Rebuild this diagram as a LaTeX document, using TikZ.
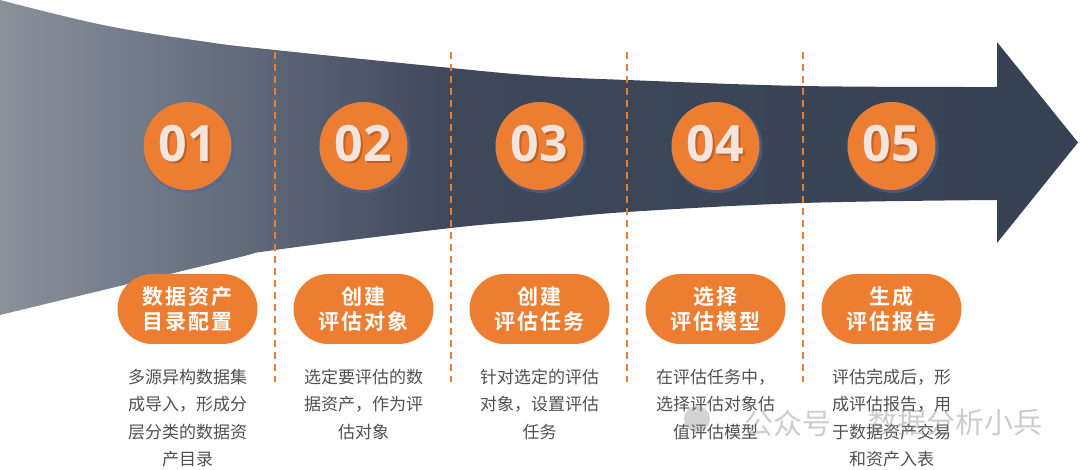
\documentclass[tikz,border=0pt]{standalone}
\usepackage{fontspec}
\usetikzlibrary{positioning}
\setmainfont{Open Sans}
\newfontfamily\cjk{Noto Sans CJK SC}[BoldFont={Noto Sans CJK SC Bold}]
\newfontfamily\cjkwide{Noto Sans CJK SC}[BoldFont={Noto Sans CJK SC Bold}, LetterSpace=8]

\definecolor{stepOrange}{HTML}{ED7D31}
\definecolor{numCream}{HTML}{F3E5DB}
\definecolor{numShadow}{HTML}{9A4A22}
\definecolor{descGray}{HTML}{505050}
\definecolor{glowBlue}{HTML}{4A6A9E}
\definecolor{fadeL}{HTML}{8A919B}
\definecolor{fadeM}{HTML}{5A6474}
\definecolor{fadeD}{HTML}{3E4859}
\definecolor{fadeR}{HTML}{364152}

\pgfdeclarehorizontalshading{arrowfade}{100bp}{color(0bp)=(fadeL); color(25bp)=(fadeL); color(38bp)=(fadeM); color(46bp)=(fadeD); color(75bp)=(fadeR); color(100bp)=(fadeR)}

\begin{document}
\begin{tikzpicture}[x=1pt,y=-1pt,
    stepnum/.style={circle, fill=stepOrange, minimum size=88pt, inner sep=0pt},
    numlabel/.style={font=\fontsize{50}{50}\selectfont\bfseries, text=numCream, inner sep=0pt},
    stagebox/.style={rounded corners=35pt, fill=stepOrange, minimum width=140pt, minimum height=70pt,
        align=center, text=white, font=\cjkwide\bfseries\fontsize{21}{25}\selectfont},
    desc/.style={align=center, text=descGray, font=\cjk\fontsize{17}{27.3}\selectfont, inner sep=0pt, anchor=north},
    divider/.style={stepOrange, line width=1.5pt, dash pattern=on 7pt off 5pt},
    mark text/.style={text=gray, opacity=0.4, font=\cjk\fontsize{29}{29}\selectfont}
]
    \useasboundingbox (0,0) rectangle (1080,470);

    % Arrow body, grey fading into dark navy
    \shade[shading=arrowfade] plot[smooth, tension=0.6] coordinates {(0,0) (103,25) (207,42) (275,50) (451,68) (540,76) (627,80) (803,86) (997,87)}
        -- (997,42) -- (1078,142.5) -- (997,243)
        -- plot[smooth, tension=0.6] coordinates {(997,200) (803,203) (627,212) (540,220) (451,228) (275,250) (228,260) (0,315)} -- cycle;

    % Dividers
    \foreach \n/\x in {1/275, 2/451, 3/627, 4/803} {
        \coordinate (dtop\n) at (\x,52);
        \coordinate (dbot\n) at (\x,382);
        \draw[divider] (dtop\n) -- (dbot\n);
    }

    % Step numbers
    \foreach \n/\x in {1/187.5, 2/363.5, 3/539.5, 4/715.5, 5/891.5} {
        \fill[glowBlue, opacity=0.6] (\x+1.5,147.5) circle (45.5);
        \node[stepnum] (num\n) at (\x,146) {};
        \node[numlabel, text=numShadow, opacity=0.55] at ([shift={(1.5,-0.5)}]num\n.center) {0\n};
        \node[numlabel] (lab\n) at ([yshift=2.5pt]num\n.center) {0\n};
    }

    % Stage titles and descriptions
    \foreach \n/\x/\title/\info in {
        1/187.5/{数据资产\\目录配置}/{多源异构数据集\\成导入，形成分\\层分类的数据资\\产目录},
        2/363.5/{创建\\评估对象}/{选定要评估的数\\据资产，作为评\\估对象},
        3/539.5/{创建\\评估任务}/{针对选定的评估\\对象，设置评估\\任务},
        4/715.5/{选择\\评估模型}/{在评估任务中，\\选择评估对象估\\值评估模型},
        5/891.5/{生成\\评估报告}/{评估完成后，形\\成评估报告，用\\于数据资产交易\\和资产入表}} {
        \node[stagebox] (stage\n) at (\x,309) {\title};
        \node[desc] (info\n) at (\x,369) {\info};
    }

    % Watermark
    \fill[gray, opacity=0.35] (697,419) circle (13);
    \node[mark text] (mark1) at (788,423) {公众号};
    \node[mark text, right=30pt of mark1] (mark2) {数据分析小兵};
\end{tikzpicture}
\end{document}
